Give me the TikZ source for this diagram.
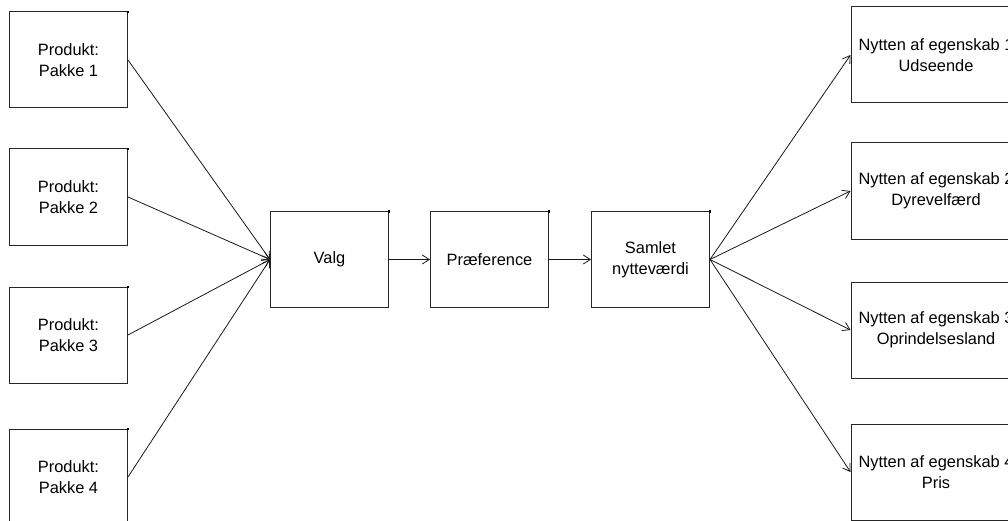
\documentclass[tikz,border=0pt]{standalone}
\usepackage{fontspec}
\setmainfont{Liberation Sans}
\usetikzlibrary{arrows.meta}
\begin{document}
\begin{tikzpicture}[x=1pt,y=-1pt,
  box/.style={draw=black!85, line width=1pt, minimum width=118pt, minimum height=96pt,
    align=center, inner sep=0pt, font=\fontsize{16.4}{21}\selectfont},
  widebox/.style={box, minimum width=170pt},
  link/.style={line width=0.8pt, draw=black!90, -{Straight Barb[length=7pt,width=9pt]}},
  cornerdot/.style={fill=black}]
\useasboundingbox (0,0) rectangle (1008,521);
\clip (0,0) rectangle (1008,521);

% products
\node[box] (p1) at (68.5,60)  {Produkt:\\Pakke 1};
\node[box] (p2) at (68.5,197) {Produkt:\\Pakke 2};
\node[box] (p3) at (68.5,335) {Produkt:\\Pakke 3};
\node[box] (p4) at (68.5,477) {Produkt:\\Pakke 4};

% central chain
\node[box] (valg)   at (329.5,259.5) {Valg};
\node[box] (pref)   at (489.5,259.5) {Præference};
\node[box] (samlet) at (650.5,259.5) {Samlet\\nytteværdi};

% attribute utilities
\node[widebox] (u1) at (936,55)  {Nytten af egenskab 1\\Udseende};
\node[widebox] (u2) at (936,191) {Nytten af egenskab 2\\Dyrevelfærd};
\node[widebox] (u3) at (936,330) {Nytten af egenskab 3\\Oprindelsesland};
\node[widebox] (u4) at (936,472) {Nytten af egenskab 4\\Pris};

% small marks at the top right corners
\foreach \n in {p1,p2,p3,p4,valg,pref,samlet}
  \fill[cornerdot] (\n.north east) ++(-1.2,-0.8) rectangle ++(2.4,2.4);

% connectors
\foreach \n in {p1,p2,p3,p4}
  \draw[link] (\n.east) -- (valg.west);
\draw[link] (valg.east) -- (pref.west);
\draw[link] (pref.east) -- (samlet.west);
\foreach \n in {u1,u2,u3,u4}
  \draw[link] (samlet.east) -- (\n.west);
\end{tikzpicture}
\end{document}
